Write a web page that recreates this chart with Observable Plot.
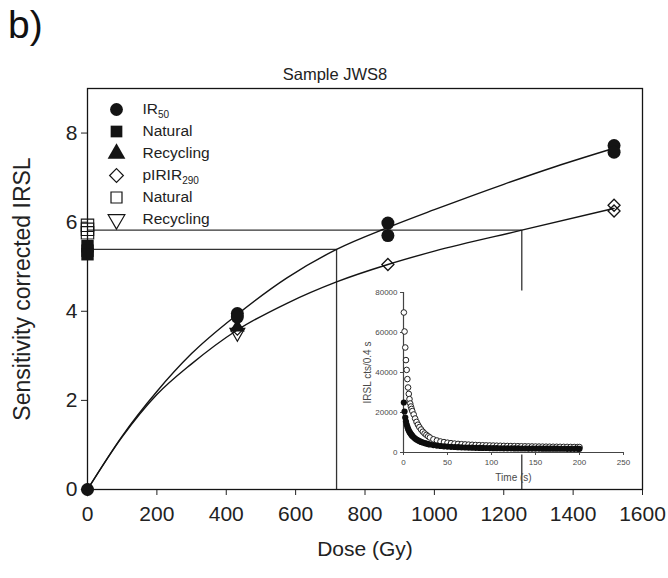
<!DOCTYPE html>
<html><head><meta charset="utf-8">
<script src="https://cdn.jsdelivr.net/npm/d3@7"></script>
<script src="https://cdn.jsdelivr.net/npm/@observablehq/plot@0.6"></script>
<style>
body{margin:0;background:#fff}
#wrap{position:relative;width:668px;height:578px;font-family:"Liberation Sans",Arial,sans-serif;color:#1a1a1a;overflow:hidden}
#wrap > *{position:absolute}
</style>
</head><body><div id="wrap"></div>
<script>
// ---------- main chart data ----------
const xTicks = [0,200,400,600,800,1000,1200,1400,1600];
const yTicks = [0,2,4,6,8];

// IR50 (filled circles): regenerated doses and sensitivity-corrected signals
const ir50Dose = [0, 432, 432, 866, 866, 1518, 1518];
const ir50Val  = [0, 3.95, 3.87, 5.98, 5.70, 7.72, 7.57];
// IR50 natural (filled squares) at dose 0
const ir50NatVal = [5.46, 5.36, 5.28];
// IR50 recycling (filled triangle)
const ir50RecDose = [432];
const ir50RecVal  = [3.64];

// pIRIR290 (open diamonds)
const pirDose = [0, 432, 866, 1518, 1518];
const pirVal  = [0, 3.6, 5.05, 6.38, 6.25];
// pIRIR290 natural (open squares)
const pirNatVal = [5.93, 5.84, 5.76];
// pIRIR290 recycling (open inverted triangle)
const pirRecDose = [432];
const pirRecVal  = [3.52];

// fitted dose-response curves
const fitDoseIR50 = [0, 100, 200, 300, 432, 575, 718, 866, 1000, 1200, 1350, 1518];
const fitValIR50  = [0, 1.2, 2.2, 3.05, 3.93, 4.75, 5.39, 5.88, 6.28, 6.85, 7.25, 7.66];
const fitDosePIR  = [0, 100, 200, 300, 432, 575, 718, 866, 1000, 1252, 1518];
const fitValPIR   = [0, 1.18, 2.13, 2.82, 3.58, 4.18, 4.66, 5.05, 5.35, 5.82, 6.31];

// natural signal levels and equivalent doses (De lines)
const natLevel  = [5.39, 5.82];
const equivDose = [718, 1252];

// ---------- inset data (IRSL decay curves) ----------
const insetXTicks = [0,50,100,150,200,250];
const insetYTicks = [0,20000,40000,60000,80000];
const insetTime = [0.4,1.2,2.0,2.8,3.6,4.4,5.2,6.0,6.8,7.6,8.4,9.2,10,11.6,13.2,14.8,16.4,18,20,22,24,26,28,30,34,38,42,46,50,54,58,62,66,70,74,78,82,86,90,94,98,102,106,110,114,118,122,126,130,134,138,142,146,150,154,158,162,166,170,174,178,182,186,190,194,198,200];
const insetPIR = [70000,60500,52500,46200,41300,36700,32500,29300,26700,24500,23000,21800,20700,19000,17000,15300,13900,12700,11500,10400,9500,8800,8100,7500,6600,6000,5500,5200,4900,4650,4450,4300,4150,4050,3950,3850,3750,3680,3620,3560,3510,3460,3410,3360,3310,3270,3230,3190,3150,3110,3080,3050,3020,2990,2960,2930,2910,2890,2870,2850,2830,2810,2790,2770,2750,2730,2720];
const insetIR50 = [25000,20500,17500,15500,14000,12800,11800,11000,10300,9700,9200,8700,8300,7600,7000,6500,6100,5700,5300,5000,4700,4450,4200,4000,3700,3450,3250,3100,2950,2850,2750,2650,2580,2500,2450,2400,2350,2300,2270,2240,2210,2180,2150,2130,2110,2090,2070,2050,2030,2010,1990,1970,1960,1950,1940,1930,1920,1910,1900,1890,1880,1870,1860,1850,1840,1830,1820];

// ---------- legend ----------
const legendKeys = ["IR50","Natural","Recycling","pIRIR290","Natural ","Recycling "];
const legendSymbols = ["circle","square","triangle","diamond2","square","triangle"];
const legendFilled = [true,true,true,false,false,false];
const legendRotate = [0,0,0,0,0,180];

// ---------- build tables ----------
const zip = (xs, ys) => xs.map((x,i)=>({x, y: ys[i]}));
const ir50Pts = zip(ir50Dose, ir50Val);
const ir50Nat = ir50NatVal.map(y=>({x:0,y}));
const ir50Rec = zip(ir50RecDose, ir50RecVal);
const pirPts = zip(pirDose, pirVal);
const pirNat = pirNatVal.map(y=>({x:0,y}));
const pirRec = zip(pirRecDose, pirRecVal);
const fitIR = zip(fitDoseIR50, fitValIR50);
const fitPIR = zip(fitDosePIR, fitValPIR);
const deLines = natLevel.map((l,i)=>({l, de: equivDose[i]}));
const decayPIR = zip(insetTime, insetPIR);
const decayIR = zip(insetTime, insetIR50);
const legend = legendKeys.map((k,i)=>({k, s: legendSymbols[i], f: legendFilled[i], r: legendRotate[i]}));

const ink = "#141414";
const font = '"Liberation Sans", Arial, sans-serif';
const wrap = document.getElementById("wrap");

const main = Plot.plot({
  width: 668, height: 578,
  marginLeft: 87, marginTop: 88, marginRight: 26, marginBottom: 89,
  style: {fontFamily: font, fontSize: "21px", color: "#222", background: "transparent", overflow: "visible"},
  x: {domain: [0,1600]},
  y: {domain: [0,9]},
  marks: [
    Plot.axisX({ticks: xTicks, tickFormat: d3.format("d"), tickSize: 6, tickPadding: 11, label: "Dose (Gy)", labelAnchor: "center", labelOffset: 66, labelArrow: "none"}),
    Plot.axisY({ticks: yTicks, tickSize: 6, tickPadding: 4, label: null}),
    Plot.text(["Sensitivity corrected IRSL"], {frameAnchor: "left", textAnchor: "middle", lineAnchor: "middle", rotate: -90, dx: -65, fontSize: 23, fill: "#222"}),
    Plot.ruleY(deLines, {y: "l", x1: 0, x2: "de", stroke: "#333", strokeWidth: 1.3}),
    Plot.ruleX(deLines, {x: "de", y1: 0, y2: "l", stroke: "#333", strokeWidth: 1.3}),
    Plot.line(fitIR, {x: "x", y: "y", curve: "monotone-x", stroke: ink, strokeWidth: 1.4}),
    Plot.line(fitPIR, {x: "x", y: "y", curve: "monotone-x", stroke: ink, strokeWidth: 1.4}),
    Plot.dot(pirRec, {x: "x", y: "y", symbol: "triangle", rotate: 180, r: 5.5, stroke: ink, strokeWidth: 1.2, fill: "none"}),
    Plot.dot(ir50Rec, {x: "x", y: "y", symbol: "triangle", r: 5.5, fill: ink, stroke: "none"}),
    Plot.dot(pirPts, {x: "x", y: "y", symbol: "diamond2", r: 5.4, stroke: ink, strokeWidth: 1.3, fill: "none"}),
    Plot.dot(ir50Pts, {x: "x", y: "y", symbol: "circle", r: 6.5, fill: ink, stroke: "none"}),
    Plot.dot(ir50Nat, {x: "x", y: "y", symbol: "square", r: 7, fill: ink, stroke: "none"}),
    Plot.dot(pirNat, {x: "x", y: "y", symbol: "square", r: 7, stroke: ink, strokeWidth: 1.1, fill: "none"}),
    Plot.frame({stroke: ink, strokeWidth: 1.3})
  ]
});
main.style.left = "0px"; main.style.top = "0px";
wrap.appendChild(main);

// inset: IRSL decay curves
const inset = Plot.plot({
  width: 300, height: 215,
  marginLeft: 63, marginTop: 12, marginRight: 17, marginBottom: 43,
  style: {fontFamily: font, fontSize: "8px", color: "#4a4a4a", background: "transparent", overflow: "visible"},
  x: {domain: [0,250]},
  y: {domain: [0,80000]},
  marks: [
    Plot.frame({fill: "white", stroke: "none", inset: -2}),
    Plot.axisX({ticks: insetXTicks, tickSize: 3, tickPadding: 4, label: null}),
    Plot.axisY({ticks: insetYTicks, tickSize: 3, tickPadding: 3, tickFormat: d3.format("d"), label: null}),
    Plot.text(["Time (s)"], {frameAnchor: "bottom", textAnchor: "middle", lineAnchor: "middle", dy: 25, fontSize: 10, fill: "#4a4a4a"}),
    Plot.text(["IRSL cts/0.4 s"], {frameAnchor: "left", textAnchor: "middle", lineAnchor: "middle", rotate: -90, dx: -36, fontSize: 10, fill: "#4a4a4a"}),
    Plot.ruleX([0], {stroke: "#444", strokeWidth: 1.2}),
    Plot.ruleY([0], {stroke: "#444", strokeWidth: 1.2}),
    Plot.dot(decayPIR, {x: "x", y: "y", r: 2.8, stroke: "#222", strokeWidth: 1, fill: "white"}),
    Plot.dot(decayIR, {x: "x", y: "y", r: 3.1, fill: "#0d0d0d", stroke: "none"})
  ]
});
inset.style.left = "340px"; inset.style.top = "280px";
wrap.appendChild(inset);

// legend overlay
const leg = Plot.plot({
  width: 668, height: 578, margin: 0,
  style: {fontFamily: font, fontSize: "15.5px", color: "#222", background: "transparent"},
  x: {domain: [0,1], range: [116,142], axis: null},
  y: {type: "point", domain: legendKeys, range: [108,219], padding: 0, axis: null},
  marks: [
    Plot.dot(legend.filter(d=>d.s==="circle"), {x: () => 0, y: "k", symbol: "circle", r: 6.4, fill: ink}),
    Plot.dot(legend.filter(d=>d.s!=="circle" && d.f), {x: () => 0, y: "k", symbol: "s", rotate: "r", r: 6.6, fill: ink}),
    Plot.dot(legend.filter(d=>!d.f), {x: () => 0, y: "k", symbol: "s", rotate: "r", r: 6.2, stroke: ink, strokeWidth: 1.2, fill: "none"}),
    Plot.text(legend, {x: () => 1, y: "k", text: d => d.k.trim(), textAnchor: "start", fill: "#222"})
  ]
});
leg.style.left = "0px"; leg.style.top = "0px";
wrap.appendChild(leg);
d3.select(leg).selectAll("text").each(function(){
  const t = this.textContent;
  const m = t.match(/^(IR|pIRIR)(\d+)$/);
  if (m) {
    const s = d3.select(this); s.text(null);
    s.append("tspan").text(m[1]);
    s.append("tspan").attr("font-size", "10px").attr("dy", "4").text(m[2]);
  }
});

// panel label and title
const b = document.createElement("div");
b.textContent = "b)";
Object.assign(b.style, {left: "8px", top: "0px", fontSize: "39px", lineHeight: "50px", color: "#111"});
wrap.appendChild(b);
const title = document.createElement("div");
title.textContent = "Sample JWS8";
Object.assign(title.style, {left: "0px", width: "670px", textAlign: "center", top: "65px", fontSize: "16.5px", color: "#222"});
wrap.appendChild(title);
</script></body></html>
